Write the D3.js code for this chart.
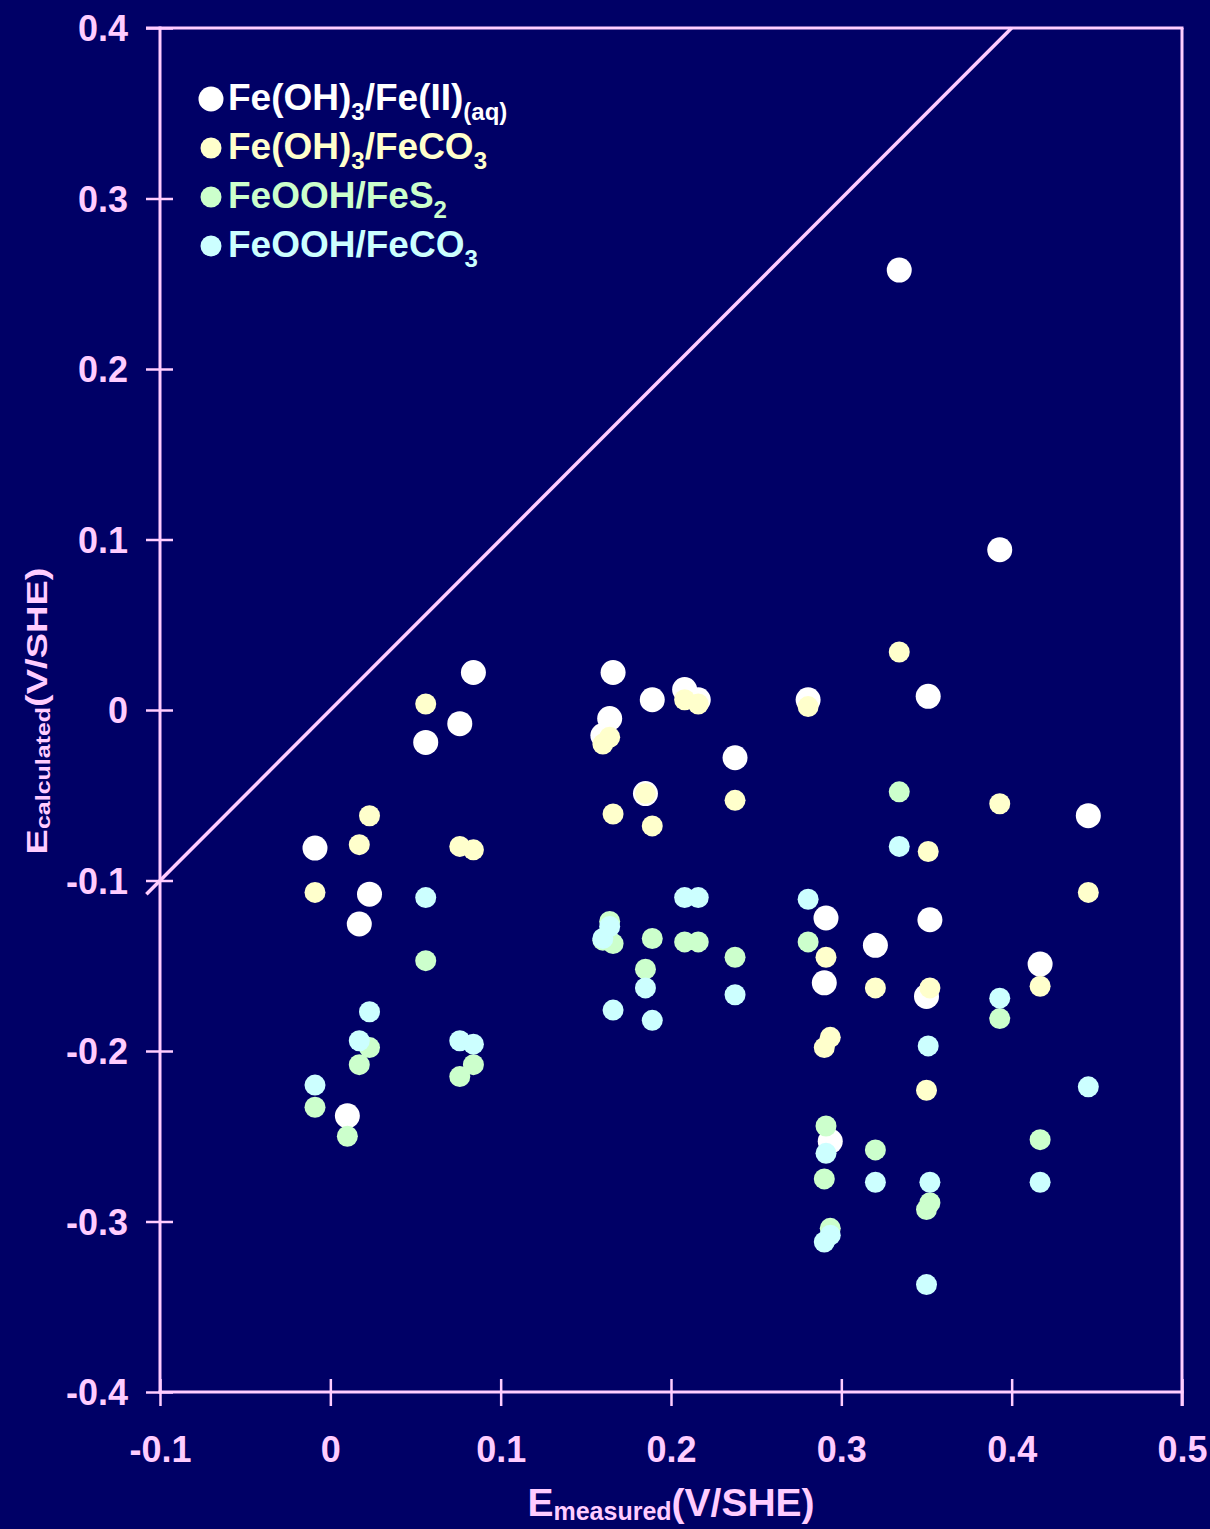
<!DOCTYPE html>
<html>
<head>
<meta charset="utf-8">
<script src="https://cdn.jsdelivr.net/npm/d3@7"></script>
<style>
  html, body { margin: 0; padding: 0; background: #000066; }
  svg { display: block; }
  text { font-family: "Liberation Sans", Arial, sans-serif; font-weight: bold; }
</style>
</head>
<body>
<svg id="chart" width="1210" height="1529"></svg>
<script>
// Measured potential of each sample (V vs SHE)
const measured = [-0.009, 0.010, 0.017, 0.023, 0.056, 0.076, 0.084,
  0.160, 0.164, 0.166, 0.185, 0.189, 0.208, 0.216, 0.2376, 0.2805,
  0.290, 0.291, 0.2935, 0.320, 0.334, 0.350, 0.351, 0.352, 0.393, 0.4167, 0.445];

// Calculated potentials for each redox couple (null = not plotted)
const feOH3FeIIaq = [-0.081, -0.238, -0.1255, -0.108, -0.019, -0.008, 0.022,
  -0.015, -0.005, 0.022, -0.049, 0.006, 0.012, 0.006, -0.028, 0.006,
  -0.160, -0.122, -0.253, -0.138, 0.258, -0.168, 0.008, -0.123, 0.094, -0.149, -0.062];

const feOH3FeCO3 = [-0.107, null, -0.079, -0.062, 0.0035, -0.080, -0.082,
  -0.020, -0.016, -0.061, -0.049, -0.068, 0.006, 0.0035, -0.053, 0.002,
  -0.198, -0.145, -0.192, -0.163, 0.034, -0.223, -0.083, -0.163, -0.055, -0.162, -0.107];

const feOOHFeS2 = [-0.233, -0.250, -0.208, -0.198, -0.147, -0.215, -0.208,
  -0.135, -0.124, -0.137, -0.152, -0.134, -0.136, -0.136, -0.145, -0.136,
  -0.275, -0.244, -0.304, -0.258, -0.048, -0.293, null, -0.289, -0.181, -0.252, null];

const feOOHFeCO3 = [-0.220, null, -0.194, -0.177, -0.110, -0.194, -0.196,
  -0.134, -0.127, -0.176, -0.163, -0.182, -0.110, -0.110, -0.167, -0.111,
  -0.312, -0.260, -0.308, -0.277, -0.080, -0.337, -0.197, -0.277, -0.169, -0.277, -0.221];

// Axis ticks
const xTicks = [-0.1, 0, 0.1, 0.2, 0.3, 0.4, 0.5];
const xTickLabels = ["-0.1", "0", "0.1", "0.2", "0.3", "0.4", "0.5"];
const yTicks = [-0.4, -0.3, -0.2, -0.1, 0, 0.1, 0.2, 0.3, 0.4];
const yTickLabels = ["-0.4", "-0.3", "-0.2", "-0.1", "0", "0.1", "0.2", "0.3", "0.4"];

// Legend labels: [text, isSubscript] pieces
const seriesNames = [
  [["Fe(OH)", false], ["3", true], ["/Fe(II)", false], ["(aq)", true]],
  [["Fe(OH)", false], ["3", true], ["/FeCO", false], ["3", true]],
  [["FeOOH/FeS", false], ["2", true]],
  [["FeOOH/FeCO", false], ["3", true]]
];
const seriesValues = [feOH3FeIIaq, feOH3FeCO3, feOOHFeS2, feOOHFeCO3];
const seriesColors = ["#ffffff", "#ffffcc", "#ccffcc", "#ccffff"];
const seriesRadius = [12.5, 10.5, 10.5, 10.5];

const AXIS = "#ffccff";
const svg = d3.select("#chart");

svg.append("rect").attr("width", 1210).attr("height", 1529).attr("fill", "#000066");

const plotLeft = 160, plotRight = 1182, plotTop = 28, plotBottom = 1392;
const x = d3.scaleLinear().domain([-0.1, 0.5]).range([plotLeft, plotRight]);
const y = d3.scaleLinear().domain([-0.4, 0.4]).range([plotBottom, plotTop]);

// Frame: top and right borders
svg.append("line").attr("x1", plotLeft - 14).attr("x2", plotRight + 1.5)
  .attr("y1", y(0.4)).attr("y2", y(0.4))
  .attr("stroke", AXIS).attr("stroke-width", 3);
svg.append("line").attr("x1", plotRight).attr("x2", plotRight)
  .attr("y1", plotTop).attr("y2", plotBottom + 14)
  .attr("stroke", AXIS).attr("stroke-width", 3);

// 1:1 line
svg.append("line")
  .attr("x1", x(-0.108)).attr("y1", y(-0.108))
  .attr("x2", x(0.4)).attr("y2", y(0.4))
  .attr("stroke", AXIS).attr("stroke-width", 3.5);

// X axis
const xAxis = svg.append("g")
  .attr("transform", `translate(0,${plotBottom})`)
  .call(d3.axisBottom(x).tickValues(xTicks)
    .tickFormat((d, i) => xTickLabels[i]).tickSizeOuter(0).tickSize(14).tickPadding(0));
xAxis.select(".domain").attr("stroke", AXIS).attr("stroke-width", 3)
  .attr("d", `M${plotLeft - 1.5},0H${plotRight + 1.5}`);
xAxis.selectAll(".tick line").attr("stroke", AXIS).attr("stroke-width", 2.5)
  .attr("y1", -13).attr("y2", 14);
xAxis.selectAll(".tick text").attr("fill", AXIS).attr("font-size", 36)
  .attr("y", 0).attr("dy", 0).attr("transform", "translate(0,70)")
  .attr("font-family", "Liberation Sans, Arial, sans-serif").attr("font-weight", "bold");

// Y axis
const yAxis = svg.append("g")
  .attr("transform", `translate(${plotLeft},0)`)
  .call(d3.axisLeft(y).tickValues(yTicks)
    .tickFormat((d, i) => yTickLabels[i]).tickSizeOuter(0).tickSize(14).tickPadding(0));
yAxis.select(".domain").attr("stroke", AXIS).attr("stroke-width", 3)
  .attr("d", `M0,${plotTop - 1.5}V${plotBottom + 1.5}`);
yAxis.selectAll(".tick line").attr("stroke", AXIS).attr("stroke-width", 2.5)
  .attr("x1", -14).attr("x2", 13);
yAxis.selectAll(".tick text").attr("fill", AXIS).attr("font-size", 36)
  .attr("x", -32).attr("dy", "0.36em")
  .attr("font-family", "Liberation Sans, Arial, sans-serif").attr("font-weight", "bold");

// Data points, drawn series by series
seriesValues.forEach((vals, s) => {
  const pts = measured.map((m, i) => ({ m, v: vals[i] })).filter(d => d.v !== null);
  svg.append("g").selectAll("circle").data(pts).join("circle")
    .attr("cx", d => x(d.m)).attr("cy", d => y(d.v))
    .attr("r", seriesRadius[s]).attr("fill", seriesColors[s]);
});

// Legend
const legendBase = [110, 159, 208, 257];
seriesNames.forEach((parts, s) => {
  svg.append("circle").attr("cx", 211).attr("cy", legendBase[s] - 11)
    .attr("r", seriesRadius[s]).attr("fill", seriesColors[s]);
  const t = svg.append("text").attr("x", 228).attr("y", legendBase[s])
    .attr("fill", seriesColors[s]).attr("font-size", 37);
  let shifted = false;
  parts.forEach(([txt, sub]) => {
    const ts = t.append("tspan").text(txt);
    if (sub && !shifted) { ts.attr("dy", 10).attr("font-size", 24); shifted = true; }
    else if (sub) { ts.attr("font-size", 24); }
    else if (shifted) { ts.attr("dy", -10); shifted = false; }
  });
});

// Axis titles
const xTitle = svg.append("text")
  .attr("transform", "translate(671,1516)")
  .attr("text-anchor", "middle").attr("fill", AXIS).attr("font-size", 39);
xTitle.append("tspan").text("E");
xTitle.append("tspan").attr("font-size", 25).attr("dy", 4).text("measured");
xTitle.append("tspan").attr("dy", -4).text("(V/SHE)");

const yTitle = svg.append("text")
  .attr("transform", "translate(47,711) rotate(-90) scale(1,0.8)")
  .attr("text-anchor", "middle").attr("fill", AXIS).attr("font-size", 38);
yTitle.append("tspan").text("E");
yTitle.append("tspan").attr("font-size", 25).attr("dy", 4).text("calculated");
yTitle.append("tspan").attr("dy", -4).text("(V/SHE)");
</script>
</body>
</html>
